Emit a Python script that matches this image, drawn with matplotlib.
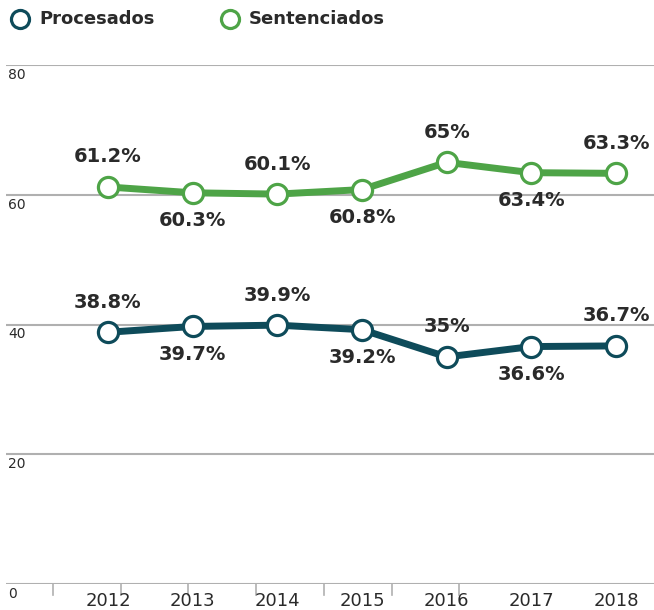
import matplotlib
matplotlib.use("Agg")
import matplotlib.pyplot as plt
from matplotlib.lines import Line2D

years = ["2012", "2013", "2014", "2015", "2016", "2017", "2018"]
procesados = [38.8, 39.7, 39.9, 39.2, 35, 36.6, 36.7]
sentenciados = [61.2, 60.3, 60.1, 60.8, 65, 63.4, 63.3]
proc_labels = ["38.8%", "39.7%", "39.9%", "39.2%", "35%", "36.6%", "36.7%"]
sent_labels = ["61.2%", "60.3%", "60.1%", "60.8%", "65%", "63.4%", "63.3%"]
yticks = [0, 20, 40, 60, 80]

DARK = "#0e4b5a"
GREEN = "#4ea447"
TEXT = "#2a2a2a"
GRID = "#b0b0b0"

W, H = 654, 610
fig = plt.figure(figsize=(W / 100, H / 100), dpi=100)
ax_left, ax_right, ax_top, ax_bottom = 6, 654, 65, 584
ax = fig.add_axes([ax_left / W, 1 - ax_bottom / H, (ax_right - ax_left) / W, (ax_bottom - ax_top) / H])

x = list(range(len(years)))
step = 84.67
ax.set_xlim((ax_left - 108) / step, (ax_right - 108) / step)
ax.set_ylim(0, 80)

for s in ax.spines.values():
    s.set_visible(False)
ax.set_xticks([])
ax.set_yticks([])

for v in yticks:
    ax.axhline(v, color=GRID, lw=1.5, zorder=0)
    ax.annotate(str(v), xy=(0, v), xycoords=("axes fraction", "data"),
                xytext=(2, -3), textcoords="offset pixels", ha="left", va="top",
                fontsize=10, color=TEXT)

# tick marks along the baseline
for k in range(7):
    px = 53 + 67.7 * k
    xd = (px - 108) / step
    ax.plot([xd, xd], [0, -1.7], color=GRID, lw=1.2, clip_on=False)

for i, y in enumerate(years):
    ax.annotate(y, xy=(i, 0), xycoords="data", xytext=(0, -8), textcoords="offset pixels",
                ha="center", va="top", fontsize=13, color=TEXT)

for vals, labels, col in [(sentenciados, sent_labels, GREEN), (procesados, proc_labels, DARK)]:
    ax.plot(x, vals, color=col, lw=5, solid_capstyle="round", zorder=3,
            marker="o", markersize=14.5, markerfacecolor="white", markeredgecolor=col,
            markeredgewidth=2.3)
    for i, (v, lab) in enumerate(zip(vals, labels)):
        above = (i % 2 == 0)
        off = 30 if above else -28
        ax.annotate(lab, xy=(i, v), xytext=(0, off), textcoords="offset pixels",
                    ha="center", va="center", fontsize=14, fontweight="bold", color=TEXT)

# legend
for cx, label, col in [(20, "Procesados", DARK), (230, "Sentenciados", GREEN)]:
    fig.add_artist(Line2D([cx / W], [1 - 19 / H], marker="o", markersize=13,
                          markerfacecolor="white", markeredgecolor=col, markeredgewidth=2.3,
                          linestyle="none", transform=fig.transFigure))
    fig.text((cx + 19) / W, 1 - 19 / H, label, ha="left", va="center",
             fontsize=13, fontweight="bold", color=TEXT)

fig.savefig("out.png", dpi=100)
